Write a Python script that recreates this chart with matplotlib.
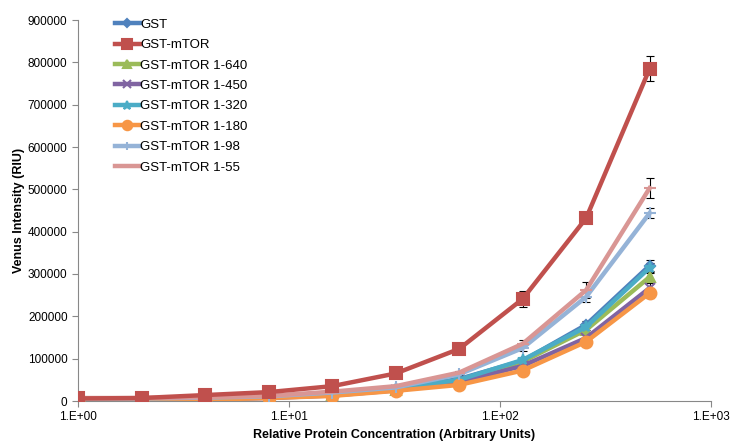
import matplotlib
matplotlib.use("Agg")
import matplotlib.pyplot as plt

plt.rcParams['font.family'] = ['Liberation Sans', 'DejaVu Sans']

conc = [1, 2, 4, 8, 16, 32, 64, 128, 256, 512]

gst = [4000, 4000, 5000, 9000, 16000, 28000, 52000, 95000, 180000, 320000]
gst_mtor = [6000, 7000, 14000, 21000, 35000, 65000, 123000, 241000, 432000, 785000]
mtor_640 = [4000, 4000, 5000, 8000, 14000, 26000, 48000, 93000, 168000, 293000]
mtor_450 = [3000, 3000, 4000, 7000, 13000, 25000, 44000, 83000, 149000, 267000]
mtor_320 = [4000, 4000, 6000, 9000, 17000, 29000, 50000, 97000, 175000, 315000]
mtor_180 = [2000, 2000, 3000, 7000, 12000, 24000, 38000, 72000, 140000, 255000]
mtor_98 = [6000, 6000, 8000, 11000, 20000, 32000, 63000, 125000, 246000, 444000]
mtor_55 = [7000, 7000, 9000, 12000, 22000, 35000, 67000, 135000, 262000, 503000]

err_gst = [1000, 1000, 1000, 2000, 2000, 3000, 4000, 6000, 8000, 12000]
err_mtor = [1000, 1000, 2000, 3000, 4000, 6000, 8000, 18000, 10000, 30000]
err_640 = [1000, 1000, 1000, 2000, 2000, 3000, 4000, 6000, 8000, 12000]
err_450 = [1000, 1000, 1000, 2000, 2000, 3000, 4000, 6000, 8000, 12000]
err_320 = [1000, 1000, 1000, 2000, 2000, 3000, 4000, 6000, 8000, 12000]
err_180 = [1000, 1000, 1000, 2000, 2000, 3000, 4000, 6000, 8000, 12000]
err_98 = [1000, 1000, 1000, 2000, 2000, 3000, 5000, 8000, 12000, 12000]
err_55 = [1000, 1000, 1000, 2000, 2000, 3000, 5000, 8000, 18000, 23000]

labels = ['GST', 'GST-mTOR', 'GST-mTOR 1-640', 'GST-mTOR 1-450',
          'GST-mTOR 1-320', 'GST-mTOR 1-180', 'GST-mTOR 1-98', 'GST-mTOR 1-55']
series = [gst, gst_mtor, mtor_640, mtor_450, mtor_320, mtor_180, mtor_98, mtor_55]
errors = [err_gst, err_mtor, err_640, err_450, err_320, err_180, err_98, err_55]
colors = ['#4F81BD', '#C0504D', '#9BBB59', '#8064A2', '#4BACC6', '#F79646', '#95B3D7', '#D99694']
markers = ['D', 's', '^', 'x', '*', 'o', '+', '_']
msizes = [5, 8.5, 7, 7, 8, 8.5, 8, 8]

fig = plt.figure(figsize=(7.34, 4.43), dpi=100)
ax = fig.add_axes([78 / 734, 1 - 401 / 443, (711 - 78) / 734, (401 - 20) / 443])

# low series first, then red on top like the original
order = [0, 2, 3, 4, 5, 6, 7, 1]
handles = {}
for i in order:
    ax.errorbar(conc, series[i], yerr=errors[i], fmt='none', ecolor='black',
                elinewidth=0.8, capsize=3, capthick=0.8, zorder=2)
    h, = ax.plot(conc, series[i], color=colors[i], lw=3.2, marker=markers[i],
                 ms=msizes[i], mfc=colors[i], mec=colors[i], mew=1.5,
                 label=labels[i], zorder=3)
    handles[i] = h

ax.set_xscale('log')
ax.set_xlim(1, 1000)
ax.set_ylim(0, 900000)
ax.set_yticks(range(0, 900001, 100000))
ax.set_xticks([1, 10, 100, 1000])
ax.set_xticklabels(['1.E+00', '1.E+01', '1.E+02', '1.E+03'])
ax.minorticks_off()
ax.tick_params(axis='both', labelsize=8.5, color='#888888', length=4, direction='out')

for s in ['top', 'right']:
    ax.spines[s].set_visible(False)
for s in ['left', 'bottom']:
    ax.spines[s].set_color('#888888')

ax.set_xlabel('Relative Protein Concentration (Arbitrary Units)', fontsize=9, fontweight='bold')
ax.set_ylabel('Venus Intensity (RIU)', fontsize=9, fontweight='bold', labelpad=2)

ax.legend([handles[i] for i in range(8)], labels, loc='upper left',
          bbox_to_anchor=(0.039, 1.035), frameon=False, fontsize=9.5,
          handlelength=1.9, handletextpad=0.05, labelspacing=0.62, markerscale=0.8)

fig.savefig('out.png', dpi=100)
